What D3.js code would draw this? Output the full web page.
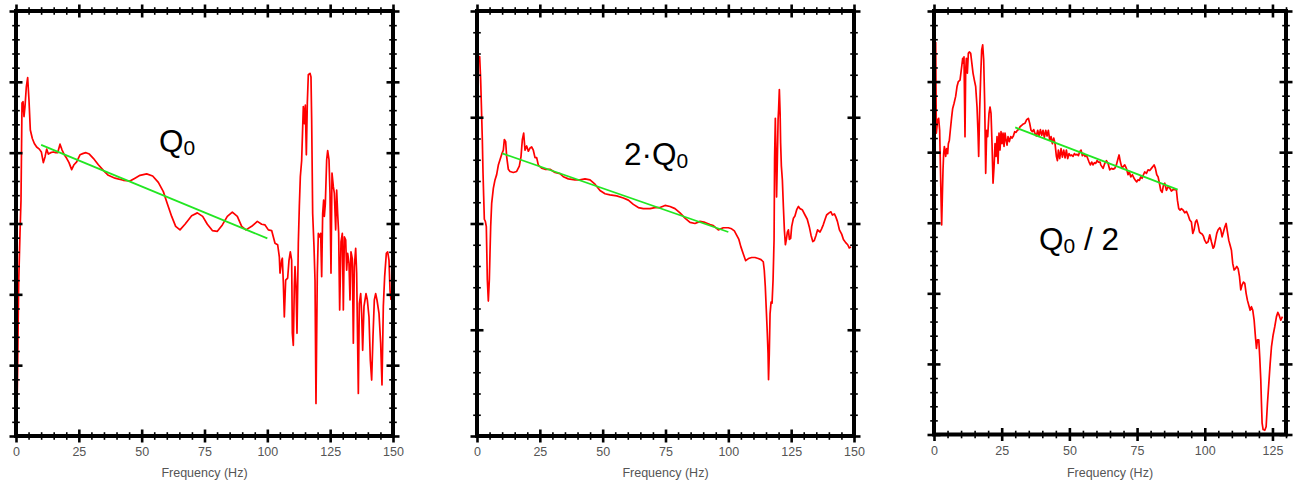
<!DOCTYPE html>
<html>
<head>
<meta charset="utf-8">
<script src="https://cdn.jsdelivr.net/npm/d3@7"></script>
<style>
  html, body { margin: 0; padding: 0; background: #fff; }
  svg { display: block; }
  text { font-family: "Liberation Sans", Arial, Helvetica, sans-serif; }
</style>
</head>
<body>
<svg id="chart" width="1293" height="483"></svg>
<script>
// Amplitude spectra (dB) vs frequency (Hz) for three quality factors.
// Each point is [frequency, amplitude].
const spectrumQ0 = [
  [0.27,-59.2],[0.66,-50.2],[1.06,-38.4],[1.59,-31.4],[1.99,-26.7],[2.39,-13.0],[2.79,-12.8],[3.18,-14.9],
  [3.58,-13.5],[4.11,-10.7],[4.64,-9.4],[5.17,-12.6],[5.70,-16.8],[6.50,-18.0],[7.29,-18.7],[8.22,-19.2],
  [9.28,-19.5],[10.08,-19.9],[10.88,-21.4],[11.54,-20.6],[12.20,-19.5],[12.86,-20.2],[13.79,-20.0],[14.85,-19.9],
  [15.78,-20.0],[16.58,-20.0],[17.51,-18.8],[18.30,-19.6],[19.23,-20.3],[20.16,-20.8],[21.09,-21.4],[22.15,-22.4],
  [23.08,-21.7],[24.14,-21.3],[25.46,-20.3],[26.79,-20.1],[27.85,-20.0],[29.18,-20.2],[30.77,-20.8],[32.76,-21.7],
  [34.75,-22.5],[36.74,-23.2],[39.39,-23.6],[42.71,-23.9],[45.36,-24.0],[47.35,-23.6],[49.34,-23.2],[51.99,-23.0],
  [54.38,-23.3],[56.63,-24.2],[58.62,-25.5],[60.21,-27.2],[61.94,-29.0],[63.53,-30.4],[65.25,-30.9],[67.24,-30.1],
  [69.89,-28.9],[72.15,-28.5],[74.27,-29.0],[76.13,-30.1],[78.12,-31.0],[80.11,-31.1],[82.10,-30.2],[84.08,-29.0],
  [86.07,-28.4],[88.06,-29.0],[89.79,-30.4],[91.51,-30.9],[93.77,-30.4],[96.02,-29.7],[97.75,-30.1],[99.07,-30.2],
  [100.40,-30.9],[101.72,-31.0],[103.05,-32.8],[104.11,-33.0],[104.77,-34.7],[105.04,-37.0],[105.70,-35.2],[105.97,-34.9],
  [106.37,-38.4],[106.76,-43.2],[107.29,-38.0],[108.09,-37.7],[108.62,-35.2],[109.15,-34.0],[109.68,-35.2],[109.95,-45.5],
  [110.34,-47.2],[110.74,-38.9],[111.01,-36.1],[111.41,-38.9],[111.80,-45.5],[112.33,-32.8],[112.73,-27.6],[113.13,-23.4],
  [113.66,-21.1],[114.32,-13.5],[114.72,-15.9],[115.12,-13.3],[115.52,-20.3],[115.91,-13.0],[116.31,-9.0],[116.98,-8.8],
  [117.37,-9.3],[117.64,-15.4],[118.04,-28.6],[118.57,-33.3],[118.97,-38.0],[119.36,-55.4],[119.89,-37.0],[120.29,-31.4],
  [120.69,-31.9],[121.22,-31.4],[121.62,-37.5],[122.02,-28.6],[122.41,-26.7],[122.68,-29.0],[123.08,-27.2],[123.61,-21.0],
  [124.01,-19.7],[124.54,-21.0],[124.93,-25.7],[125.33,-37.0],[125.73,-22.9],[126.26,-24.8],[126.66,-25.7],[127.19,-30.9],
  [127.59,-25.3],[127.98,-28.6],[128.38,-31.4],[128.78,-42.2],[129.31,-32.6],[129.84,-31.4],[130.24,-42.2],[130.64,-31.9],
  [131.17,-32.3],[131.56,-36.6],[131.96,-34.2],[132.49,-35.6],[132.89,-40.8],[133.29,-34.0],[133.82,-35.0],[134.22,-46.9],
  [134.62,-36.1],[135.15,-33.5],[135.54,-37.0],[136.21,-54.0],[136.60,-41.3],[137.14,-39.9],[137.53,-42.7],[137.93,-47.9],
  [138.46,-41.7],[138.86,-40.8],[139.26,-39.9],[139.79,-40.8],[140.45,-43.2],[140.98,-49.3],[141.51,-52.1],[142.04,-46.0],
  [142.57,-40.8],[143.10,-39.9],[143.63,-40.8],[144.43,-42.7],[145.09,-46.9],[145.62,-52.8],[146.15,-41.7],[146.68,-37.5],
  [147.35,-34.2],[147.88,-34.0],[148.41,-35.2],[148.81,-39.4],[149.20,-40.8]
];

const spectrum2Q0 = [
  [0.80,-4.6],[1.06,-4.3],[1.46,-6.5],[1.72,-8.7],[2.12,-12.1],[2.39,-15.2],[2.65,-17.4],[2.92,-19.6],
  [3.32,-19.8],[3.71,-20.3],[4.11,-25.3],[4.51,-27.3],[4.91,-25.3],[5.17,-22.8],[5.44,-20.3],[5.84,-18.1],
  [6.50,-16.7],[7.16,-15.9],[7.82,-15.4],[8.49,-14.5],[9.15,-14.0],[9.81,-13.5],[10.48,-13.1],[10.88,-12.1],
  [11.41,-12.3],[11.80,-13.7],[12.47,-14.9],[13.13,-15.1],[14.46,-15.2],[15.78,-15.1],[16.84,-14.6],[17.51,-13.7],
  [18.04,-12.1],[18.57,-11.5],[19.10,-13.1],[19.76,-12.7],[20.42,-13.2],[21.09,-12.9],[21.75,-12.8],[22.41,-13.1],
  [23.08,-13.8],[23.74,-13.8],[24.40,-14.5],[25.73,-14.8],[27.06,-14.9],[29.05,-14.9],[31.03,-15.2],[33.02,-15.3],
  [34.35,-15.6],[36.34,-15.8],[38.99,-15.9],[40.98,-15.9],[42.97,-15.8],[44.96,-15.9],[46.95,-16.3],[48.94,-16.9],
  [50.93,-17.2],[52.92,-17.3],[55.57,-17.4],[58.22,-17.6],[60.21,-17.8],[62.20,-18.2],[64.19,-18.5],[66.18,-18.6],
  [68.83,-18.6],[70.82,-18.5],[72.81,-18.5],[74.80,-18.3],[76.79,-18.4],[78.78,-18.6],[80.77,-19.0],[82.76,-19.5],
  [84.75,-19.9],[86.74,-20.0],[88.73,-19.8],[90.72,-19.9],[92.71,-20.1],[94.03,-20.2],[96.02,-20.6],[98.01,-20.4],
  [100.0,-20.4],[101.3,-20.5],[102.4,-20.7],[103.3,-21.1],[104.2,-21.5],[105.0,-22.2],[106.0,-22.9],[106.9,-23.5],
  [108.0,-23.3],[109.3,-23.2],[110.6,-23.2],[111.9,-23.3],[113.0,-23.4],[113.9,-23.6],[114.3,-24.4],[114.7,-25.9],
  [115.1,-28.1],[115.5,-30.3],[115.8,-32.2],[116.0,-34.7],[116.3,-32.2],[116.6,-28.5],[117.0,-27.4],[117.4,-27.5],
  [117.8,-25.3],[118.2,-21.5],[118.4,-14.0],[118.7,-10.1],[119.0,-14.3],[119.2,-17.5],[119.5,-14.0],[119.8,-10.2],
  [120.0,-9.3],[120.3,-7.4],[120.6,-9.6],[120.8,-12.4],[121.1,-14.6],[121.5,-15.9],[121.9,-18.4],[122.3,-20.6],
  [122.7,-22.0],[123.1,-21.5],[123.5,-20.8],[123.9,-20.6],[124.3,-21.5],[124.8,-21.4],[125.2,-20.3],[125.9,-19.5],
  [126.5,-19.3],[127.2,-18.7],[127.9,-18.4],[128.5,-18.6],[129.4,-18.7],[130.5,-19.2],[131.4,-19.6],[132.2,-20.3],
  [132.9,-21.1],[133.6,-21.7],[134.2,-21.6],[134.9,-21.1],[135.5,-20.6],[136.5,-20.8],[137.1,-20.5],[137.8,-20.1],
  [138.5,-19.6],[139.1,-19.2],[140.1,-19.0],[140.8,-18.9],[141.4,-19.2],[142.2,-19.1],[142.8,-19.4],[143.4,-19.8],
  [144.2,-20.6],[145.1,-21.0],[145.8,-21.5],[146.7,-21.8],[147.5,-22.0],[148.1,-22.3],[148.8,-22.2]
];

const spectrumHalfQ0 = [
  [0.62,-4.4],[0.86,-17.3],[1.35,-15.4],[1.72,-15.2],[2.09,-16.9],[2.34,-21.6],[2.59,-26.3],[2.83,-30.3],
  [3.08,-26.3],[3.33,-22.5],[3.57,-20.2],[3.82,-19.2],[4.06,-19.7],[4.31,-20.6],[4.68,-19.5],[5.05,-20.2],
  [5.30,-18.8],[5.67,-18.3],[6.03,-16.9],[6.53,-15.0],[6.90,-13.8],[7.39,-13.1],[8.00,-12.1],[8.50,-10.7],
  [8.99,-10.0],[9.61,-9.8],[10.22,-7.9],[10.59,-6.7],[10.84,-7.4],[11.08,-6.5],[11.45,-17.8],[11.70,-8.4],
  [11.95,-6.7],[12.32,-8.8],[12.68,-6.0],[13.05,-5.8],[13.55,-6.0],[13.92,-7.2],[14.41,-8.8],[14.90,-9.8],
  [15.39,-10.7],[15.89,-13.6],[16.26,-17.3],[16.50,-20.6],[16.87,-14.0],[17.24,-9.3],[17.61,-5.5],[17.98,-4.8],
  [18.35,-6.9],[18.72,-13.1],[19.09,-23.0],[19.46,-16.9],[19.83,-17.8],[20.32,-14.5],[20.69,-13.6],[21.06,-14.5],
  [21.43,-18.8],[21.80,-24.4],[22.17,-22.1],[22.54,-18.8],[22.91,-20.6],[23.28,-17.8],[23.65,-21.6],[24.01,-17.3],
  [24.38,-19.7],[24.75,-17.1],[25.12,-18.8],[25.49,-17.3],[25.86,-19.2],[26.23,-17.3],[26.60,-18.3],[26.97,-19.0],
  [27.34,-17.8],[27.83,-18.5],[28.33,-17.8],[28.82,-18.0],[29.31,-17.7],[29.80,-17.1],[30.30,-17.2],[30.79,-16.9],
  [31.28,-16.8],[31.77,-16.4],[32.39,-16.2],[33.00,-16.0],[33.62,-15.9],[34.24,-15.4],[34.85,-15.2],[35.34,-15.9],
  [35.84,-16.9],[36.33,-17.1],[36.82,-16.8],[37.32,-17.4],[37.81,-17.7],[38.30,-16.9],[38.79,-17.7],[39.29,-16.8],
  [39.78,-17.6],[40.27,-16.9],[40.76,-17.9],[41.26,-16.9],[41.75,-17.7],[42.24,-16.9],[42.73,-18.3],[43.23,-17.8],
  [43.72,-18.8],[44.21,-18.0],[44.70,-18.8],[45.20,-20.6],[45.57,-21.2],[45.94,-19.7],[46.43,-20.9],[46.92,-19.5],
  [47.41,-20.7],[47.91,-19.7],[48.40,-20.8],[48.89,-19.7],[49.38,-20.9],[49.88,-20.2],[50.37,-20.5],[50.86,-20.4],
  [51.35,-20.6],[51.85,-20.2],[52.34,-20.4],[52.83,-20.3],[53.33,-20.5],[53.82,-19.9],[54.31,-19.7],[54.80,-20.5],
  [55.30,-20.2],[55.79,-20.6],[56.28,-20.4],[56.77,-20.9],[57.27,-21.4],[57.76,-21.8],[58.25,-21.4],[58.74,-21.8],
  [59.24,-21.5],[59.73,-21.6],[60.22,-21.2],[60.71,-21.4],[61.33,-21.4],[61.58,-21.8],[62.44,-22.3],[63.05,-21.6],
  [63.67,-21.2],[64.29,-21.6],[64.90,-22.5],[65.52,-22.3],[66.13,-22.4],[66.75,-22.3],[67.36,-21.8],[67.98,-20.9],
  [68.35,-20.4],[68.84,-21.4],[69.46,-22.3],[69.95,-22.0],[70.44,-21.8],[71.06,-22.3],[71.67,-23.2],[72.17,-22.8],
  [72.66,-23.5],[73.28,-23.2],[73.89,-23.7],[74.38,-24.0],[74.88,-24.2],[75.37,-23.9],[75.86,-24.0],[76.35,-23.5],
  [76.85,-23.7],[77.34,-23.2],[77.83,-22.8],[78.45,-23.0],[79.06,-22.5],[79.68,-22.6],[80.30,-22.3],[80.91,-22.0],
  [81.28,-21.8],[81.77,-22.3],[82.27,-23.2],[82.76,-23.5],[83.25,-24.4],[83.74,-25.4],[84.24,-25.7],[84.73,-24.7],
  [85.22,-24.4],[85.84,-25.4],[86.45,-24.9],[87.07,-25.1],[87.68,-25.5],[88.30,-25.3],[88.92,-25.3],[89.53,-25.4],
  [89.90,-26.8],[90.39,-28.0],[90.89,-28.2],[91.38,-28.0],[91.99,-28.2],[92.61,-28.6],[93.23,-28.4],[93.84,-28.9],
  [94.46,-29.6],[95.07,-29.9],[95.57,-31.5],[96.06,-31.0],[96.55,-29.9],[97.04,-29.6],[97.54,-30.3],[98.03,-31.3],
  [98.52,-31.5],[99.01,-31.6],[99.51,-31.9],[100.0,-32.5],[100.62,-32.9],[101.23,-32.7],[101.85,-31.7],[102.46,-32.7],
  [103.08,-33.6],[103.45,-33.4],[103.94,-32.5],[104.43,-31.5],[104.93,-31.0],[105.54,-30.7],[105.91,-31.0],[106.40,-32.0],
  [106.90,-31.3],[107.39,-30.6],[107.88,-30.1],[108.37,-31.3],[108.87,-32.5],[109.36,-33.2],[109.85,-33.9],[110.34,-35.8],
  [110.84,-36.7],[111.33,-36.5],[111.82,-36.2],[112.32,-36.5],[112.81,-37.6],[113.30,-39.5],[113.79,-38.8],[114.29,-38.4],
  [114.78,-38.6],[115.27,-40.0],[115.76,-41.0],[116.26,-41.7],[116.75,-42.4],[117.24,-41.9],[117.73,-42.4],[118.23,-43.8],
  [118.72,-46.2],[119.09,-47.8],[119.46,-46.6],[119.95,-46.6],[120.32,-49.2],[120.69,-52.3],[120.94,-55.6],[121.18,-58.4],
  [121.55,-59.3],[122.17,-59.4],[122.66,-58.9],[123.15,-55.6],[123.65,-52.8],[124.14,-50.0],[124.63,-47.6],[125.25,-45.9],
  [125.86,-44.7],[126.48,-43.3],[126.97,-42.7],[127.46,-43.1],[128.08,-43.8],[128.69,-43.3]
];

// Straight-line fits over the linear part of each spectrum: [frequency, amplitude] end points.
const fitQ0 = [[10, -18.9], [100, -32.1]];
const fit2Q0 = [[10, -13.4], [100, -20.8]];
const fitHalfQ0 = [[30, -16.5], [90, -25.3]];

// Tick values
const freqTicks150 = [0, 25, 50, 75, 100, 125, 150];
const freqTicks130 = [0, 25, 50, 75, 100, 125];
const ampTicks60 = [-60, -50, -40, -30, -20, -10, 0];
const ampTicks40 = [-40, -30, -20, -10, 0];

// Panel titles: main part, subscript, trailing text
const titleQ0 = ["Q", "0", ""];
const title2Q0 = ["2·Q", "0", ""];
const titleHalfQ0 = ["Q", "0", " / 2"];

const panels = [
  { data: spectrumQ0, fit: fitQ0, title: titleQ0, xMax: 150, xTicks: freqTicks150,
    yMin: -60, yTicks: ampTicks60, left: 16, right: 393, top: 11, bottom: 436, titleX: 159, titleY: 152 },
  { data: spectrum2Q0, fit: fit2Q0, title: title2Q0, xMax: 150, xTicks: freqTicks150,
    yMin: -40, yTicks: ampTicks40, left: 477, right: 854, top: 11, bottom: 436, titleX: 624, titleY: 165 },
  { data: spectrumHalfQ0, fit: fitHalfQ0, title: titleHalfQ0, xMax: 130, xTicks: freqTicks130,
    yMin: -60, yTicks: ampTicks60, left: 934, right: 1286, top: 11, bottom: 434.5, titleX: 1039, titleY: 250 }
];

const svg = d3.select("#chart");

function ticksBetween(max, step, start) {
  return d3.range(start, max + 1e-9, step);
}

// Ticks that straddle the frame line (half length on each side).
function frameTicks(g, side, scale, values, half, width, offset) {
  const gen = { left: d3.axisLeft, right: d3.axisRight, top: d3.axisTop, bottom: d3.axisBottom }[side];
  const vertical = side === "left" || side === "right";
  const a = g.append("g")
    .attr("transform", vertical ? `translate(${offset},0)` : `translate(0,${offset})`)
    .call(gen(scale).tickValues(values).tickSize(0).tickFormat(""));
  a.select(".domain").remove();
  a.selectAll(".tick text").remove();
  a.selectAll(".tick line")
    .attr(vertical ? "x1" : "y1", -half)
    .attr(vertical ? "x2" : "y2", half)
    .attr(vertical ? "y1" : "x1", 0)
    .attr(vertical ? "y2" : "x2", 0)
    .attr("stroke", "#000")
    .attr("stroke-width", width);
  return a;
}

panels.forEach((p, i) => {
  const x = d3.scaleLinear().domain([0, p.xMax]).range([p.left, p.right]);
  const y = d3.scaleLinear().domain([p.yMin, 0]).range([p.bottom, p.top]);
  const g = svg.append("g");

  const clipId = "clip" + i;
  svg.append("clipPath").attr("id", clipId)
    .append("rect")
    .attr("x", p.left).attr("y", p.top)
    .attr("width", p.right - p.left).attr("height", p.bottom - p.top);

  const line = d3.line().x(d => x(d[0])).y(d => y(d[1]));

  g.append("path")
    .datum(p.data)
    .attr("clip-path", `url(#${clipId})`)
    .attr("fill", "none")
    .attr("stroke", "#ff0000")
    .attr("stroke-width", 1.7)
    .attr("stroke-linejoin", "round")
    .attr("d", line);

  g.append("path")
    .datum(p.fit)
    .attr("fill", "none")
    .attr("stroke", "#22e622")
    .attr("stroke-width", 1.8)
    .attr("d", line);

  // Frame
  g.append("rect")
    .attr("x", p.left).attr("y", p.top)
    .attr("width", p.right - p.left).attr("height", p.bottom - p.top)
    .attr("fill", "none").attr("stroke", "#000").attr("stroke-width", 4);

  const xMinor = ticksBetween(p.xMax, 5, 0).filter(v => v % 25 !== 0);
  const yMinor = ticksBetween(0, 2, p.yMin).filter(v => v % 10 !== 0);

  ["bottom", "top"].forEach(side => {
    const off = side === "bottom" ? p.bottom : p.top;
    frameTicks(g, side, x, xMinor, 3.8, 1.6, off);
    frameTicks(g, side, x, p.xTicks, 6.5, 2.6, off);
  });
  ["left", "right"].forEach(side => {
    const off = side === "left" ? p.left : p.right;
    frameTicks(g, side, y, yMinor, 3.8, 1.6, off);
    frameTicks(g, side, y, p.yTicks, 6.5, 2.6, off);
  });

  // Frequency tick labels
  const lab = g.append("g")
    .attr("transform", `translate(0,${p.bottom})`)
    .call(d3.axisBottom(x).tickValues(p.xTicks).tickSize(0).tickPadding(11.5).tickFormat(d3.format("d")));
  lab.select(".domain").remove();
  lab.selectAll(".tick line").remove();
  lab.selectAll(".tick text")
    .attr("font-family", "'Liberation Sans', Arial, sans-serif")
    .attr("font-size", 12.5)
    .attr("fill", "#555");

  g.append("text")
    .attr("x", (p.left + p.right) / 2)
    .attr("y", 476.5)
    .attr("text-anchor", "middle")
    .attr("font-size", 12.5)
    .attr("fill", "#555")
    .text("Frequency (Hz)");

  // Panel title with subscript
  const t = g.append("text")
    .attr("x", p.titleX)
    .attr("y", p.titleY)
    .attr("font-size", 31.5)
    .attr("fill", "#000");
  t.append("tspan").text(p.title[0]);
  t.append("tspan").attr("font-size", 21).attr("dy", 2.5).text(p.title[1]);
  if (p.title[2]) {
    t.append("tspan").attr("dy", -2.5).attr("font-size", 31.5).text(p.title[2]);
  }
});
</script>
</body>
</html>
